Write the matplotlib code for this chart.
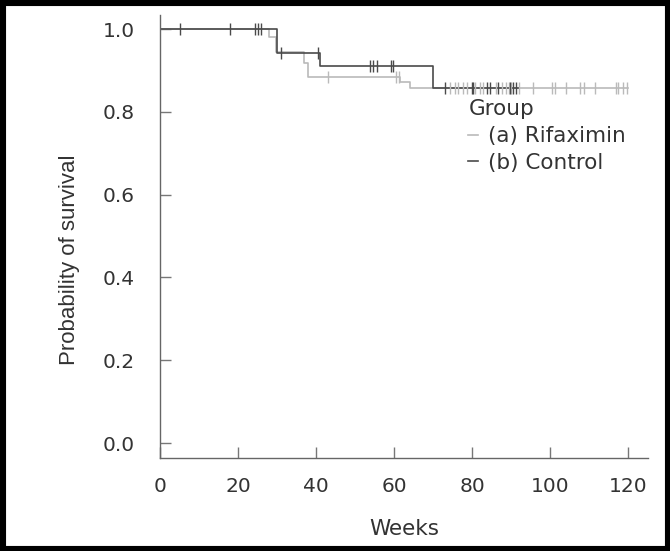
import numpy as np
import matplotlib.pyplot as plt
from matplotlib.patches import Rectangle

plt.rcParams['font.family'] = ['DejaVu Sans']

# ----- Kaplan-Meier curves -----
# (a) Rifaximin : light grey
rif_t = [0, 28, 29.7, 37, 38, 61.5, 64, 120]
rif_s = [1.0, 0.981, 0.944, 0.918, 0.884, 0.871, 0.857, 0.857]
rif_cens_t = [43, 60.5, 61.2,
              74.4, 75.6, 76.4, 77.7, 78.7, 80.8, 82, 82.8, 86, 87.7, 88.5,
              89.5, 90, 92, 95.6, 100.5, 101.3, 104, 107.7, 108.5, 111.5,
              116.7, 117.4, 118.5, 119.7]
rif_cens_s = [0.884, 0.884, 0.884] + [0.857]*25

# (b) Control : dark grey
ctl_t = [0, 30, 41, 70, 92]
ctl_s = [1.0, 0.942, 0.911, 0.857, 0.857]
ctl_cens_t = [5, 18, 24.4, 25.1, 25.9, 31, 40.5,
              53.8, 54.6, 55.6, 59.2, 59.8,
              73, 80, 80.3, 83.8, 84.6, 86.7, 89.7, 90.5, 91.3]
ctl_cens_s = [1.0]*5 + [0.942]*2 + [0.911]*5 + [0.857]*9

xticks = [0, 20, 40, 60, 80, 100, 120]
yticks = [0.0, 0.2, 0.4, 0.6, 0.8, 1.0]

c_rif = '#bababa'
c_ctl = '#4a4a4a'
c_txt = '#333333'

fig = plt.figure(figsize=(6.7, 5.51), dpi=100)
ax = fig.add_axes([160/670, (551-458)/551, (648-160)/670, (458-15)/551])

ax.step(rif_t, rif_s, where='post', color=c_rif, lw=1.2, label='(a) Rifaximin')
ax.step(ctl_t, ctl_s, where='post', color=c_ctl, lw=1.2, label='(b) Control')
ax.plot(rif_cens_t, rif_cens_s, ls='none', marker='|', ms=9, mew=1.0, color=c_rif)
ax.plot(ctl_cens_t, ctl_cens_s, ls='none', marker='|', ms=9, mew=1.0, color=c_ctl)

ax.set_xlim(0, 125)
ax.set_ylim(-0.036, 1.034)
ax.set_xticks(xticks)
ax.set_yticks(yticks)
ax.set_yticklabels(['%.1f' % v for v in yticks])
for s in ['top', 'right']:
    ax.spines[s].set_visible(False)
for s in ['left', 'bottom']:
    ax.spines[s].set_color('#666666')
    ax.spines[s].set_linewidth(1.0)
ax.tick_params(axis='both', direction='in', length=8, width=1.0, color='#777777',
               labelsize=14.5, labelcolor=c_txt)
ax.tick_params(axis='y', pad=18)
ax.tick_params(axis='x', pad=14)

ax.set_xlabel('Weeks', fontsize=15.5, color=c_txt, labelpad=16)
ax.set_ylabel('Probability of survival', fontsize=16, color=c_txt,
              family='Liberation Sans')
ax.yaxis.set_label_coords(-0.164, 0.447)

leg = ax.legend(loc='upper left', bbox_to_anchor=(0.632, 0.81), frameon=False,
                title='Group', alignment='left', fontsize=15.5, title_fontsize=15.5,
                handlelength=0.45, handletextpad=0.45, labelspacing=0.32,
                borderaxespad=0, borderpad=0)
for t in leg.get_texts():
    t.set_color(c_txt)
leg.get_title().set_color(c_txt)

# black frame round the whole picture
fig.patches.append(Rectangle((0.0, 0.0), 1.0, 1.0, transform=fig.transFigure,
                             fill=False, edgecolor='black', linewidth=8))

fig.savefig('out.png', dpi=100)
